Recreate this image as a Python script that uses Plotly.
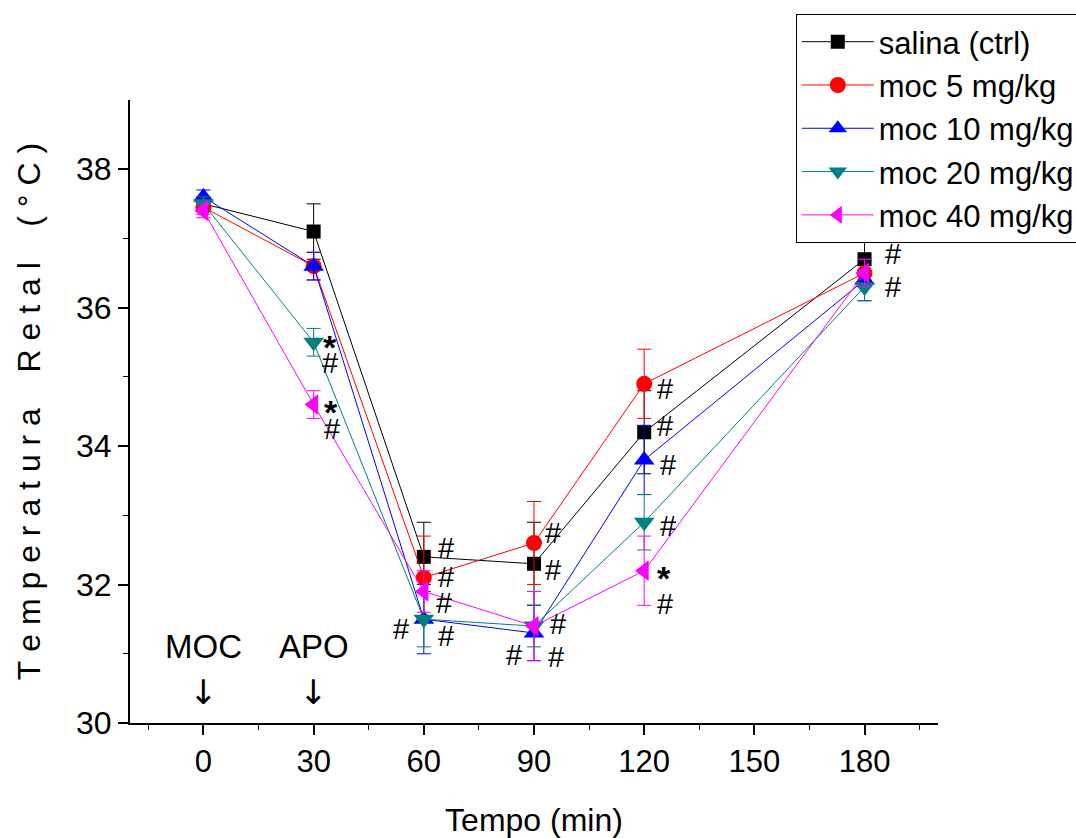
import plotly.graph_objects as go

# Time points (min) and rectal temperature (°C), mean ± error
tempo = [0, 30, 60, 90, 120, 180]

series_names = ["salina (ctrl)", "moc 5 mg/kg", "moc 10 mg/kg", "moc 20 mg/kg", "moc 40 mg/kg"]

salina = [37.5, 37.1, 32.4, 32.3, 34.2, 36.7]
moc5 = [37.45, 36.6, 32.1, 32.6, 34.9, 36.5]
moc10 = [37.6, 36.6, 31.5, 31.3, 33.8, 36.4]
moc20 = [37.5, 35.5, 31.5, 31.4, 32.9, 36.3]
moc40 = [37.4, 34.6, 31.9, 31.4, 32.2, 36.5]

err_salina = [0.1, 0.4, 0.5, 0.6, 0.6, 0.3]
err_moc5 = [0.1, 0.2, 0.6, 0.6, 0.5, 0.2]
err_moc10 = [0.1, 0.2, 0.5, 0.4, 0.5, 0.3]
err_moc20 = [0.1, 0.2, 0.4, 0.3, 0.4, 0.2]
err_moc40 = [0.1, 0.2, 0.3, 0.5, 0.5, 0.2]

values = [salina, moc5, moc10, moc20, moc40]
errors = [err_salina, err_moc5, err_moc10, err_moc20, err_moc40]

x_ticks = [0, 30, 60, 90, 120, 150, 180]
y_ticks = [30, 32, 34, 36, 38]

# Significance marks: (series index, time, symbol)
sig_marks = [
    (3, 30, "*"), (3, 30, "#"), (4, 30, "*"), (4, 30, "#"),
    (0, 60, "#"), (1, 60, "#"), (4, 60, "#"), (2, 60, "#"), (3, 60, "#"),
    (1, 90, "#"), (0, 90, "#"), (4, 90, "#"), (3, 90, "#"), (2, 90, "#"),
    (1, 120, "#"), (0, 120, "#"), (2, 120, "#"), (3, 120, "#"), (4, 120, "*"), (4, 120, "#"),
    (0, 180, "#"), (3, 180, "#"),
]
# pixel offsets of each mark from its point (right, down)
sig_offsets = [
    (16, 5), (16, 21), (17, 7), (18, 24),
    (22, -9), (22, -1), (20, 12), (-23, 10), (22, 17),
    (19, -10), (19, 6), (24, -2), (22, 31), (-20, 22),
    (21, 5), (21, -6), (24, 5), (24, 4), (20, 7), (21, 33),
    (28, -5), (28, 0),
]

colors = ["#000000", "#ff0000", "#0000ff", "#008080", "#ff00ff"]
symbols = ["square", "circle", "triangle-up", "triangle-down", "triangle-left"]
sizes = [14, 16, 18, 18, 18]

FONT = "Arial, 'Liberation Sans', sans-serif"

fig = go.Figure()
for i, name in enumerate(series_names):
    fig.add_trace(go.Scatter(
        x=tempo, y=values[i], name=name, mode="lines+markers",
        line=dict(color=colors[i], width=1),
        marker=dict(symbol=symbols[i], size=sizes[i], color=colors[i]),
        error_y=dict(type="data", array=errors[i], visible=True,
                     color=colors[i], thickness=1, width=7),
        legendgroup=f"g{i}",
    ))

annotations = []
for (si, t, txt), (dx, dy) in zip(sig_marks, sig_offsets):
    idx = tempo.index(t)
    is_star = txt == "*"
    annotations.append(dict(
        x=t, y=values[si][idx], xref="x", yref="y",
        text="<b>*</b>" if is_star else txt,
        showarrow=False, xshift=dx, yshift=-dy,
        font=dict(family=FONT, size=34 if is_star else 29, color="black"),
    ))

for t, label in [(0, "MOC"), (30, "APO")]:
    annotations.append(dict(x=t, y=31.1, xref="x", yref="y", text=label,
                            showarrow=False, font=dict(family=FONT, size=33, color="black")))
    annotations.append(dict(x=t, y=30.45, xref="x", yref="y", text="↓",
                            showarrow=False,
                            font=dict(family="'DejaVu Sans', sans-serif", size=34, color="black")))

NB = "\u00a0"
ytitle = (NB.join("Temperatura") + NB * 4 + NB.join("Retal") + NB * 4 + NB.join("(°C)"))

fig.update_layout(
    width=1076, height=838,
    paper_bgcolor="white", plot_bgcolor="white",
    margin=dict(l=130, r=138, t=100, b=115, autoexpand=False),
    font=dict(family=FONT, color="black"),
    showlegend=True,
    legend=dict(
        x=0.824, y=1.138, xanchor="left", yanchor="top",
        bordercolor="black", borderwidth=1, bgcolor="white",
        font=dict(family=FONT, size=31, color="black"),
        tracegroupgap=0, itemwidth=72,
    ),
    annotations=annotations,
    xaxis=dict(
        range=[-20, 200], tickvals=x_ticks, ticktext=[str(v) for v in x_ticks],
        showgrid=False, zeroline=False, showline=True, linecolor="black", linewidth=2,
        ticks="outside", ticklen=10, tickwidth=1.5, tickcolor="black",
        minor=dict(tickvals=[-15, 15, 45, 75, 105, 135, 165, 195], ticks="outside",
                   ticklen=5, tickwidth=1, tickcolor="black"),
        tickfont=dict(family=FONT, size=31),
        title=dict(text="Tempo (min)", font=dict(family=FONT, size=32), standoff=32),
    ),
    yaxis=dict(
        range=[30, 39], tickvals=y_ticks, ticktext=[str(v) for v in y_ticks],
        showgrid=False, zeroline=False, showline=True, linecolor="black", linewidth=2,
        ticks="outside", ticklen=10, tickwidth=1.5, tickcolor="black",
        minor=dict(tickvals=[31, 33, 35, 37], ticks="outside",
                   ticklen=5, tickwidth=1, tickcolor="black"),
        tickfont=dict(family=FONT, size=32),
        title=dict(text=ytitle, font=dict(family=FONT, size=32), standoff=26),
    ),
)

fig.write_html("out.html")
